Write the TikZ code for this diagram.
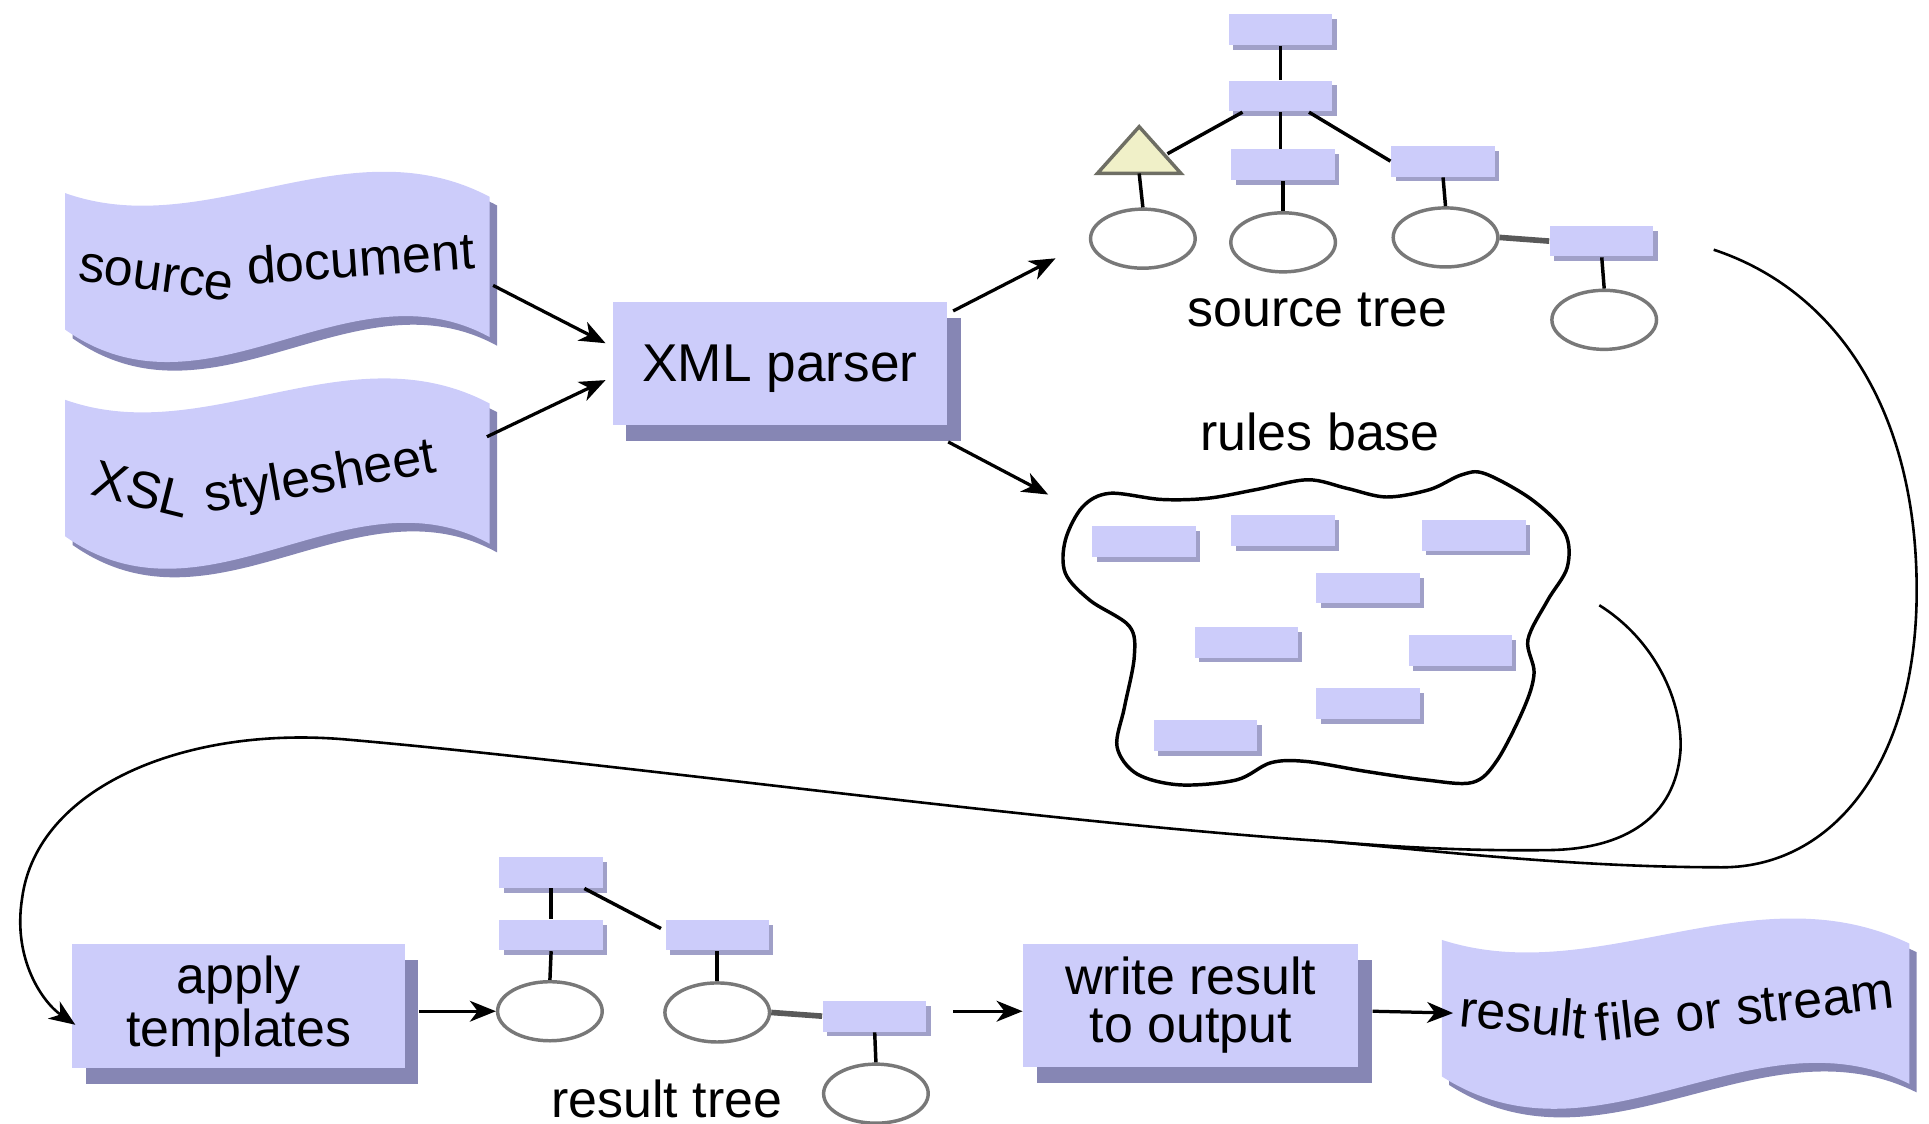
\documentclass[tikz,border=0pt]{standalone}
\usepackage{fontspec}
\setmainfont{Liberation Sans}
\usetikzlibrary{shapes.geometric,shadows,arrows.meta,calc}
\definecolor{boxc}{RGB}{204,204,250}
\definecolor{shadc}{RGB}{134,134,180}
\definecolor{sshadc}{RGB}{160,160,200}
\definecolor{trifill}{RGB}{240,240,200}
\definecolor{tridraw}{RGB}{110,110,100}
\definecolor{ellc}{RGB}{120,120,120}
\newcommand{\lbl}{\fontsize{12}{14}\selectfont}
\newcommand{\drawbanner}[3]{%
  \begin{scope}[shift={(#1,#2)}]
    \begin{scope}[shift={(6,7)}]
      \fill[shadc] (0,0) .. controls ({#3/3},40.8) and ({2*#3/3},-57.8) .. (#3,3) -- (#3,117) .. controls ({2*#3/3},54) and ({#3/3},192) .. (0,111) -- cycle;
    \end{scope}
    \fill[boxc] (0,0) .. controls ({#3/3},40.8) and ({2*#3/3},-57.8) .. (#3,3) -- (#3,117) .. controls ({2*#3/3},54) and ({#3/3},192) .. (0,111) -- cycle;
  \end{scope}}
\begin{document}
\begin{tikzpicture}[x=0.01cm,y=-0.01cm,
  sbox/.style={rectangle, fill=boxc, minimum width=8.4mm, minimum height=2.5mm, inner sep=0pt,
    drop shadow={shadow xshift=0.35mm, shadow yshift=-0.4mm, fill=sshadc, opacity=1}},
  bbox/.style={rectangle, fill=boxc, minimum width=27.2mm, minimum height=10mm, inner sep=0pt,
    align=center, font=\fontsize{12}{11}\selectfont,
    drop shadow={shadow xshift=1.1mm, shadow yshift=-1.3mm, fill=shadc, opacity=1}},
  ell/.style={ellipse, draw=ellc, line width=0.8pt, fill=white, minimum width=8.5mm, minimum height=4.8mm, inner sep=0pt},
  tl/.style={line width=0.8pt},
  tg/.style={line width=1.3pt, draw=black!65},
  arr/.style={-{Stealth[length=6pt,width=4.8pt,inset=1.8pt]}, line width=0.75pt},
  flow/.style={line width=0.6pt},
  lab/.style={font=\lbl, inner sep=0pt, anchor=base},
  word/.style={font=\lbl, inner sep=0pt, anchor=base west},
  ghost/.style={inner sep=0pt, draw=none}]
\useasboundingbox (0,0) rectangle (1568,913);

% banners
\drawbanner{53}{157}{345}
\drawbanner{53}{325}{345}
\drawbanner{1172}{764}{380}
\node[ghost, minimum width=34.5mm, minimum height=15.5mm] (src) at (225.5,217.5) {};
\node[ghost, minimum width=34.5mm, minimum height=15.9mm] (xsl) at (225.5,387.5) {};
\node[ghost, minimum width=38mm, minimum height=15.7mm] (out) at (1362,823.5) {};
\node[word, rotate=-7.5] (w1) at (62,228) {source};
\node[word, rotate=4] (w2) at (201,231) {document};
\node[word, rotate=-14] (w3) at (72,402) {XSL};
\node[word, rotate=10] (w4) at (168,417) {stylesheet};
\node[word, rotate=-5.6] (w5) at (1185,834) {result};
\node[word, rotate=6.5] (w6) at (1298,847) {file or stream};

% boxes
\node[bbox, font=\fontsize{12.3}{14}\selectfont, text depth=0pt] (xml) at (634,295.5) {XML parser};
\node[bbox, minimum width=27mm, minimum height=10.1mm] (apply) at (194,818) {apply\\templates};
\node[bbox] (write) at (968,817) {write result\\to output};

% source tree
\node[sbox] (st1) at (1041,24) {};
\node[sbox] (st2) at (1041,78) {};
\node[sbox] (st3) at (1043,134) {};
\node[sbox] (st4) at (1173,131) {};
\node[sbox] (st5) at (1302,196) {};
\filldraw[fill=trifill, draw=tridraw, line width=0.8pt] (892,141) -- (926,103) -- (960,141) -- cycle;
\coordinate (triR) at (949,125);
\coordinate (triB) at (926,141);
\node[ell] (eL) at (929,194) {};
\node[ell] (eM) at (1043,197) {};
\node[ell] (eR) at (1175,193) {};
\node[ell] (eB) at (1304,260) {};
\draw[tl] (st1.south) -- (st2.north);
\draw[tl] ([xshift=-3.1mm]st2.south) -- (triR);
\draw[tl] (st2.south) -- (st2.south |- st3.north);
\draw[tl] ([xshift=2.3mm]st2.south) -- (st4.west);
\draw[tl] (triB) -- (eL.north);
\draw[tl] (st3.south) -- (eM.north);
\draw[tl] (st4.south) -- (eR.north);
\draw[tg] (eR.east) -- (st5.west);
\draw[tl] (st5.south) -- (eB.north);
\node[lab] (stlab) at (1071,265) {source tree};

% rules base
\node[lab] (rblab) at (1073,366) {rules base};
\draw[line width=0.8pt] plot[smooth cycle, tension=0.55] coordinates {
  (902,401) (944,406) (982,405) (1021,398) (1063,390) (1095,397) (1127,404) (1162,398)
  (1188,386) (1207,385) (1245,406) (1272,433) (1274,461) (1258,488) (1242,520) (1247,547)
  (1239,575) (1217,618) (1197,636) (1159,634) (1110,627) (1062,619) (1033,620) (1005,634)
  (959,638) (924,629) (908,607) (914,575) (922,534) (918,509) (886,488) (866,466) (866,439) (880,412)};
\node[sbox] (r1) at (930,440) {};
\node[sbox] (r2) at (1043,431) {};
\node[sbox] (r3) at (1198,435) {};
\node[sbox] (r4) at (1112,478) {};
\node[sbox] (r5) at (1013,522) {};
\node[sbox] (r6) at (1187,529) {};
\node[sbox] (r7) at (1112,572) {};
\node[sbox] (r8) at (980,598) {};

% result tree
\node[sbox] (rt1) at (448,709) {};
\node[sbox] (rt2) at (448,760) {};
\node[sbox] (rt3) at (583,760) {};
\node[sbox] (rt4) at (711,826) {};
\node[ell] (reL) at (447,822) {};
\node[ell] (reM) at (583,823) {};
\node[ell] (reB) at (712,889) {};
\draw[tl] (rt1.south) -- (rt2.north);
\draw[tl] ([xshift=2.7mm]rt1.south) -- ([shift={(-3,8)}]rt3.north west);
\draw[tl] (rt2.south) -- (reL.north);
\draw[tl] (rt3.south) -- (reM.north);
\draw[tg] (reM.east) -- (rt4.west);
\draw[tl] (rt4.south) -- (reB.north);
\node[lab] (rtlab) at (542,908) {result tree};

% arrows
\coordinate (stin) at (858,210);
\coordinate (rbin) at (852,402);
\coordinate (rtout) at (775,822);
\draw[arr] ([shift={(2,14.5)}]src.east) -- ([shift={(-5,-16.5)}]xml.west);
\draw[arr] ([shift={(-3,-32.5)}]xsl.east) -- ([shift={(-5,13.5)}]xml.west);
\draw[arr] ([shift={(4,8)}]xml.north east) -- (stin);
\draw[arr] ([shift={(0,13)}]xml.south east) -- (rbin);
\draw[arr] ([shift={(11,4)}]apply.east) -- (reL.west);
\draw[arr] (rtout) -- ([shift={(0,5)}]write.west);
\draw[arr] ([shift={(11,5)}]write.east) -- ([shift={(10,0)}]out.west);

% feedback curves
\coordinate (stout) at (1393,203);
\coordinate (rbout) at (1300,492);
\coordinate (J) at (1080,684);
\draw[arr, flow] (stout) .. controls (1490,235) and (1558,330) .. (1558,480)
  .. controls (1558,620) and (1490,705) .. (1400,705)
  .. controls (1280,705) and (1170,692) .. (J)
  .. controls (840,668) and (500,620) .. (280,601)
  .. controls (150,590) and (30,640) .. (18,730)
  .. controls (10,780) and (35,815) .. ([shift={(3,15)}]apply.west);
\draw[flow] (rbout) .. controls (1345,520) and (1368,570) .. (1366,610)
  .. controls (1362,665) and (1320,690) .. (1260,691)
  .. controls (1190,692) and (1130,688) .. (J);
\end{tikzpicture}
\end{document}
